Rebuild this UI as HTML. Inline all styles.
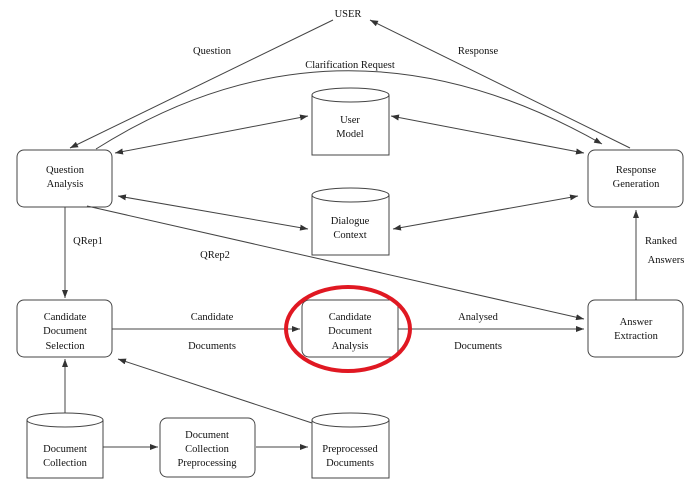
<!DOCTYPE html>
<html><head><meta charset="utf-8"><style>body{margin:0;background:#fff}svg{display:block}text{font-family:"Liberation Serif",serif;font-size:10.5px;fill:#111;text-anchor:middle}</style></head><body>
<svg width="694" height="491" viewBox="0 0 694 491" xmlns="http://www.w3.org/2000/svg">
<defs><marker id="a" markerWidth="8" markerHeight="6" refX="8" refY="3" orient="auto" markerUnits="userSpaceOnUse"><path d="M0,0 L8,3 L0,6 z" fill="#333"/></marker>
<marker id="s" markerWidth="8" markerHeight="6" refX="0" refY="3" orient="auto" markerUnits="userSpaceOnUse"><path d="M8,0 L0,3 L8,6 z" fill="#333"/></marker></defs>
<g stroke="#444" stroke-width="1" fill="none">
<rect x="17" y="150" width="95" height="57" rx="7"/>
<rect x="588" y="150" width="95" height="57" rx="7"/>
<rect x="17" y="300" width="95" height="57" rx="7"/>
<rect x="302" y="300" width="96" height="57" rx="7"/>
<rect x="588" y="300" width="95" height="57" rx="7"/>
<rect x="160" y="418" width="95" height="59" rx="7"/>
<path d="M312,95 V155 H389 V95"/><ellipse cx="350.5" cy="95" rx="38.5" ry="7" fill="#fff"/>
<path d="M312,195 V255 H389 V195"/><ellipse cx="350.5" cy="195" rx="38.5" ry="7" fill="#fff"/>
<path d="M27,420 V478 H103 V420"/><ellipse cx="65" cy="420" rx="38" ry="7" fill="#fff"/>
<path d="M312,420 V478 H389 V420"/><ellipse cx="350.5" cy="420" rx="38.5" ry="7" fill="#fff"/>
<line x1="333" y1="20" x2="70" y2="148" marker-end="url(#a)"/>
<line x1="630" y1="148" x2="370" y2="20" marker-end="url(#a)"/>
<path d="M96,149 Q340,-5 602,144" marker-end="url(#a)"/>
<line x1="115" y1="153" x2="308" y2="116" marker-start="url(#s)" marker-end="url(#a)"/>
<line x1="391" y1="116" x2="584" y2="153" marker-start="url(#s)" marker-end="url(#a)"/>
<line x1="118" y1="196" x2="308" y2="229" marker-start="url(#s)" marker-end="url(#a)"/>
<line x1="393" y1="229" x2="578" y2="196" marker-start="url(#s)" marker-end="url(#a)"/>
<line x1="87" y1="206" x2="584" y2="319" marker-end="url(#a)"/>
<line x1="65" y1="207" x2="65" y2="298" marker-end="url(#a)"/>
<line x1="636" y1="300" x2="636" y2="210" marker-end="url(#a)"/>
<line x1="112" y1="329" x2="300" y2="329" marker-end="url(#a)"/>
<line x1="398" y1="329" x2="584" y2="329" marker-end="url(#a)"/>
<line x1="312" y1="423" x2="118" y2="359" marker-end="url(#a)"/>
<line x1="65" y1="413" x2="65" y2="359" marker-end="url(#a)"/>
<line x1="103" y1="447" x2="158" y2="447" marker-end="url(#a)"/>
<line x1="256" y1="447" x2="308" y2="447" marker-end="url(#a)"/>
</g>
<ellipse cx="348" cy="329" rx="62" ry="42" fill="none" stroke="#e01822" stroke-width="4"/>
<text x="348" y="17">USER</text>
<text x="212" y="54">Question</text><text x="478" y="54">Response</text>
<text x="350" y="68">Clarification Request</text>
<text x="65" y="173">Question</text><text x="65" y="187">Analysis</text>
<text x="636" y="173">Response</text><text x="636" y="187">Generation</text>
<text x="350" y="123">User</text><text x="350" y="137">Model</text>
<text x="350" y="224">Dialogue</text><text x="350" y="238">Context</text>
<text x="88" y="244">QRep1</text><text x="215" y="258">QRep2</text>
<text x="661" y="244">Ranked</text><text x="666" y="263">Answers</text>
<text x="65" y="320">Candidate</text><text x="65" y="334">Document</text><text x="65" y="349">Selection</text>
<text x="350" y="320">Candidate</text><text x="350" y="334">Document</text><text x="350" y="349">Analysis</text>
<text x="636" y="325">Answer</text><text x="636" y="339">Extraction</text>
<text x="212" y="320">Candidate</text><text x="212" y="349">Documents</text>
<text x="478" y="320">Analysed</text><text x="478" y="349">Documents</text>
<text x="65" y="452">Document</text><text x="65" y="466">Collection</text>
<text x="207" y="438">Document</text><text x="207" y="452">Collection</text><text x="207" y="466">Preprocessing</text>
<text x="350" y="452">Preprocessed</text><text x="350" y="466">Documents</text>
</svg></body></html>
